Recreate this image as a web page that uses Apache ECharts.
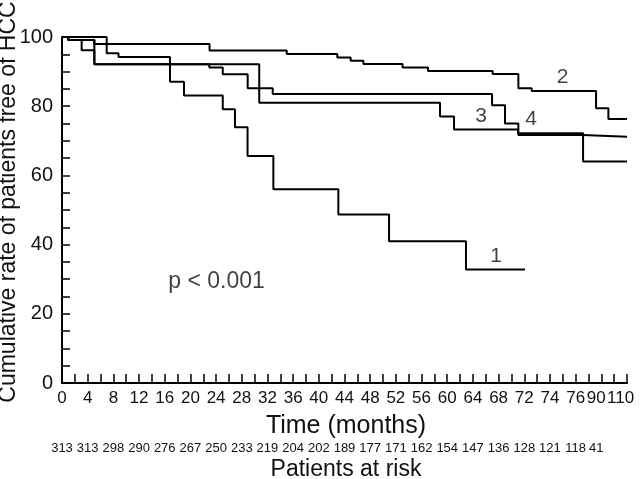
<!DOCTYPE html>
<html>
<head>
<meta charset="utf-8">
<script src="https://cdn.jsdelivr.net/npm/echarts@6/dist/echarts.min.js"></script>
<style>
html,body{margin:0;padding:0;background:#fff;}
#chart{width:640px;height:479px;}
</style>
</head>
<body>
<div id="chart"></div>
<script>
// Axis scale: one unit = one tick mark (2 months up to 72 months)
const xTickLabels = ['0','4','8','12','16','20','24','28','32','36','40','44','48','52','56','60','64','68','72','74','76','90','110'];
const xTickLabelPos = [0,2,4,6,8,10,12,14,16,18,20,22,24,26,28,30,32,34,36,38,40,41.6,43.5];
const yTickLabels = [0,20,40,60,80,100];
const riskCounts = [313,313,298,290,276,267,250,233,219,204,202,189,177,171,162,154,147,136,128,121,118,41];

// Kaplan-Meier curves: time (axis units) where rate drops, and the rate after it
const curve1Time = [0,0.49,2.52,3.48,4.4,8.41,9.5,12.52,13.47,14.45,16.46,21.52,25.47,31.46,36.06];
const curve1Rate = [100,99.1,98.0,95.3,94.2,87.1,83.1,79.1,73.9,65.6,56.0,48.7,41.0,32.8,32.8];
const curve2Time = [0,3.48,11.49,17.5,21.44,22.48,23.47,26.52,28.5,33.54,35.54,36.58,41.59,42.55,44];
const curve2Rate = [100,98.0,96.1,95.1,94.1,93.1,92.2,91.2,90.2,89.3,85.2,84.4,79.4,76.3,76.3];
const curve3Time = [0,0.49,2.52,15.36,29.44,30.53,35.51,40.58,44];
const curve3Rate = [100,99.1,92.1,81.0,77.0,73.3,72.2,64.0,64.0];
const curve4Time = [0,0.49,1.53,2.52,11.47,12.52,14.46,16.41,33.49,34.5,35.54,40.58,44];
const curve4Rate = [100,99.1,96.2,92.1,91.2,89.2,85.2,83.5,80.3,75.0,71.7,71.2,71.2];

const curveNames = ['1','2','3','4'];
const curveLabelPos = [[33.8,36.7],[38.98,88.4],[32.63,77.2],[36.53,76.3]];
const pText = 'p < 0.001';
const pTextPos = [8.28,29.3];

const narrow = "'Liberation Sans Narrow', 'Liberation Sans', Arial, sans-serif";
const sans = "'Liberation Sans', Arial, Helvetica, sans-serif";
const ink = '#111';

function pairs(t, r){ return t.map((v,i)=>[v, r[i]]); }
const curves = [pairs(curve1Time,curve1Rate), pairs(curve2Time,curve2Rate), pairs(curve3Time,curve3Rate), pairs(curve4Time,curve4Rate)];

const riskPos = riskCounts.map((_, i) => xTickLabelPos[i]);

const chart = echarts.init(document.getElementById('chart'), null, {renderer:'canvas'});

const lineSeries = curves.map((d, i) => ({
  name: curveNames[i], type: 'line', step: 'end', data: d,
  showSymbol: false, symbol: 'none', xAxisIndex: 0, yAxisIndex: 0,
  lineStyle: {color: '#000', width: 2}, silent: true, animation: false, z: 3
}));

const annotations = curveNames.map((n, i) => ({value: curveLabelPos[i], name: n,
  label: {fontSize: 21, fontFamily: sans, align: 'center'}}));
annotations.push({value: pTextPos, name: pText, label: {fontSize: 23, fontFamily: sans, align: 'left'}});

chart.setOption({
  animation: false,
  backgroundColor: '#fff',
  grid: {left: 62, right: 13, top: 37, bottom: 96, containLabel: false, outerBoundsMode: 'none'},
  xAxis: [{
    type: 'value', min: 0, max: 44, interval: 1,
    axisLine: {show: true, onZero: false, lineStyle: {color: '#000', width: 2}},
    axisTick: {show: true, inside: true, length: 9, lineStyle: {color: '#000', width: 1.5}},
    splitLine: {show: false},
    axisLabel: {
      customValues: xTickLabelPos, margin: 15, verticalAlign: 'middle',
      fontSize: 17, fontFamily: narrow, color: ink,
      formatter: v => { const i = xTickLabelPos.findIndex(p => Math.abs(p - v) < 1e-6); return i >= 0 ? xTickLabels[i] : ''; }
    }
  }, {
    type: 'value', min: 0, max: 44, position: 'bottom', offset: 60,
    axisLine: {show: false}, axisTick: {show: false}, splitLine: {show: false},
    axisLabel: {
      customValues: riskPos, margin: 5.5, verticalAlign: 'middle',
      fontSize: 13, fontFamily: narrow, color: ink,
      formatter: v => { const i = riskPos.findIndex(p => Math.abs(p - v) < 1e-6); return i >= 0 ? String(riskCounts[i]) : ''; }
    }
  }],
  yAxis: [{
    type: 'value', min: 0, max: 100, interval: 5,
    axisLine: {show: true, lineStyle: {color: '#000', width: 2}},
    axisTick: {show: true, inside: true, length: 8, lineStyle: {color: '#000', width: 1.5}},
    splitLine: {show: false},
    axisLabel: {customValues: yTickLabels, margin: 9, fontSize: 20, fontFamily: narrow, color: ink}
  }],
  series: lineSeries.concat([{
    type: 'scatter', data: annotations, symbolSize: 1, silent: true,
    itemStyle: {color: 'rgba(0,0,0,0)'}, z: 4,
    label: {show: true, position: 'inside', formatter: '{b}', color: ink, verticalAlign: 'middle'}
  }]),
  graphic: [
    {type: 'text', x: 9, y: 202, rotation: Math.PI / 2, silent: true,
      style: {text: 'Cumulative rate of patients free of HCC', fontSize: 23, fontFamily: sans, fill: ink, align: 'center', verticalAlign: 'middle'}},
    {type: 'text', x: 346, y: 426, silent: true,
      style: {text: 'Time (months)', fontSize: 25, fontFamily: sans, fill: ink, align: 'center', verticalAlign: 'middle'}},
    {type: 'text', x: 346, y: 470, silent: true,
      style: {text: 'Patients at risk', fontSize: 23, fontFamily: sans, fill: ink, align: 'center', verticalAlign: 'middle'}}
  ]
});
</script>
</body>
</html>
